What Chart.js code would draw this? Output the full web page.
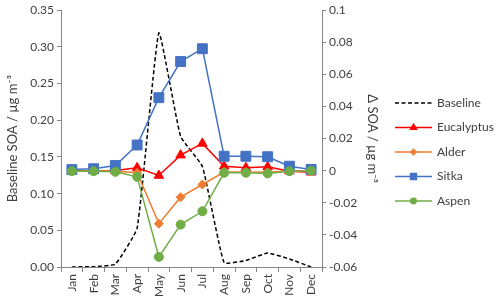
<!DOCTYPE html>
<html>
<head>
<meta charset="utf-8">
<script src="https://cdn.jsdelivr.net/npm/chart.js@4.4.1/dist/chart.umd.min.js"></script>
<style>
  body { margin: 0; background: #fff; }
  #wrap { width: 500px; height: 304px; }
</style>
</head>
<body>
<div id="wrap"><canvas id="chart" width="500" height="304"></canvas></div>
<script>
const months = ['Jan', 'Feb', 'Mar', 'Apr', 'May', 'Jun', 'Jul', 'Aug', 'Sep', 'Oct', 'Nov', 'Dec'];

// Baseline SOA (left axis, µg m-3)
const baseline = [0.000, 0.0005, 0.004, 0.053, 0.319, 0.178, 0.137, 0.006, 0.009, 0.019, 0.011, 0.000];

// Δ SOA per tree species (right axis, µg m-3)
const eucalyptus = [0.000, 0.000, 0.0002, 0.0018, -0.003, 0.0097, 0.017, 0.0028, 0.0018, 0.0024, -0.0003, -0.001];
const alder      = [0.000, 0.000, -0.0003, -0.0013, -0.033, -0.0165, -0.0086, -0.0008, -0.0008, -0.001, -0.0002, 0.000];
const sitka      = [0.0007, 0.0012, 0.0032, 0.016, 0.0455, 0.068, 0.076, 0.009, 0.009, 0.0087, 0.0028, 0.0008];
const aspen      = [-0.0003, -0.0003, -0.0007, -0.0038, -0.0537, -0.0336, -0.0253, -0.0013, -0.0013, -0.0017, -0.0003, 0.000];

const leftTicks = { min: 0, max: 0.35, step: 0.05 };
const rightTicks = { min: -0.06, max: 0.1, step: 0.02 };

const FONT = 'Lato, "Open Sans", sans-serif';
const TEXT = '#404040';
const AXIS = '#868686';

// legend drawn as line + marker like the original
const legendPlugin = {
    id: 'sideLegend',
    afterDraw(chart) {
        const ctx = chart.ctx;
        const x0 = 395, x1 = 432, tx = 437;
        let y = 103;
        chart.data.datasets.forEach(ds => {
            ctx.save();
            ctx.strokeStyle = ds.borderColor;
            ctx.lineWidth = ds.borderWidth;
            ctx.setLineDash(ds.borderDash || []);
            ctx.beginPath();
            ctx.moveTo(x0, y);
            ctx.lineTo(x1, y);
            ctx.stroke();
            ctx.setLineDash([]);
            if (ds.pointRadius > 0) {
                ctx.fillStyle = ds.pointBackgroundColor;
                ctx.strokeStyle = ds.pointBorderColor;
                Chart.helpers.drawPoint(ctx, {
                    pointStyle: ds.pointStyle,
                    radius: ds.pointRadius * 0.6,
                    rotation: 0,
                    borderWidth: 1
                }, (x0 + x1) / 2, y);
            }
            ctx.fillStyle = TEXT;
            ctx.font = '12px ' + FONT;
            ctx.textBaseline = 'middle';
            ctx.textAlign = 'left';
            ctx.fillText(ds.label, tx, y);
            ctx.restore();
            y += 24.5;
        });
    }
};

function series(label, data, color, style, radius, order) {
    return {
        label, data,
        yAxisID: 'y1',
        borderColor: color,
        backgroundColor: color,
        pointBackgroundColor: color,
        pointBorderColor: color,
        borderWidth: 1.5,
        pointStyle: style,
        pointRadius: radius,
        pointBorderWidth: 1,
        tension: 0,
        order
    };
}

new Chart(document.getElementById('chart'), {
    type: 'line',
    data: {
        labels: months,
        datasets: [
            {
                label: 'Baseline',
                data: baseline,
                yAxisID: 'y',
                borderColor: '#000000',
                backgroundColor: '#000000',
                borderWidth: 1.5,
                borderDash: [4, 2.5],
                pointRadius: 0,
                tension: 0.12,
                order: 5
            },
            series('Eucalyptus', eucalyptus, '#FF0000', 'triangle', 5.5, 4),
            series('Alder', alder, '#ED7D31', 'rectRot', 4.5, 3),
            series('Sitka', sitka, '#4472C4', 'rect', 7, 2),
            series('Aspen', aspen, '#70AD47', 'circle', 4.5, 1)
        ]
    },
    options: {
        responsive: false,
        animation: false,
        layout: { padding: { top: 10, right: 116, left: 0, bottom: 0 } },
        plugins: { legend: { display: false }, tooltip: { enabled: false } },
        scales: {
            x: {
                offset: true,
                grid: { display: true, drawOnChartArea: false, offset: true, tickLength: 5, color: AXIS },
                border: { color: AXIS },
                ticks: { minRotation: 90, maxRotation: 90, autoSkip: false, padding: 2, color: TEXT, font: { family: FONT, size: 12 } },
                afterFit: s => { s.height = 37; }
            },
            y: {
                position: 'left',
                min: leftTicks.min,
                max: leftTicks.max,
                grid: { drawOnChartArea: false, tickLength: 4, color: AXIS },
                border: { color: AXIS },
                ticks: {
                    stepSize: leftTicks.step,
                    padding: 3,
                    color: TEXT,
                    font: { family: FONT, size: 12 },
                    callback: v => v.toFixed(2)
                },
                title: {
                    display: true,
                    text: 'Baseline SOA / µg m⁻³',
                    color: TEXT,
                    font: { family: FONT, size: 13 },
                    padding: { top: 5, bottom: 0 }
                },
                afterFit: s => { s.width = 61; }
            },
            y1: {
                position: 'right',
                min: rightTicks.min,
                max: rightTicks.max,
                grid: { drawOnChartArea: false, tickLength: 4, color: AXIS },
                border: { color: AXIS },
                ticks: {
                    stepSize: rightTicks.step,
                    padding: 3,
                    color: TEXT,
                    font: { family: FONT, size: 12 },
                    callback: v => String(Number(v.toFixed(2)))
                },
                title: {
                    display: true,
                    text: 'Δ SOA / µg m⁻³',
                    color: TEXT,
                    font: { family: FONT, size: 13 },
                    padding: { top: 4, bottom: 0 }
                },
                afterFit: s => { s.width = 62; }
            }
        }
    },
    plugins: [legendPlugin]
});
</script>
</body>
</html>
